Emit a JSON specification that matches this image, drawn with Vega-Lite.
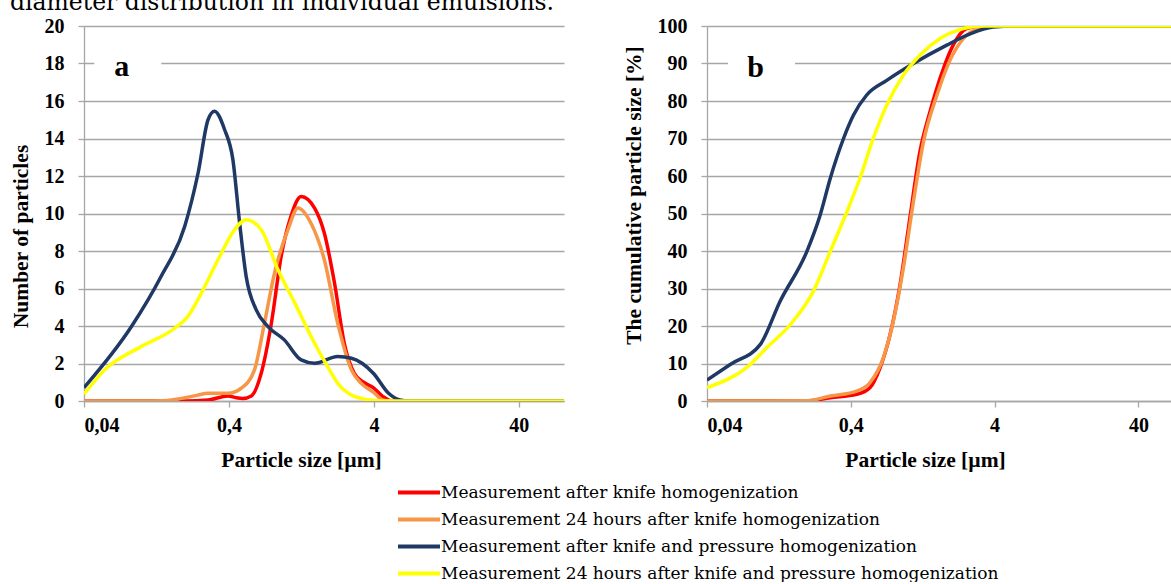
{
  "$schema": "https://vega.github.io/schema/vega-lite/v6.json",
  "padding": {"left": 10, "top": -10, "right": 0, "bottom": 0},
  "background": "white",
  "config": {
    "view": {"stroke": null},
    "font": "Liberation Serif",
    "axis": {
      "labelFont": "Liberation Serif",
      "labelFontWeight": "bold",
      "labelFontSize": 20,
      "labelColor": "black",
      "labelOverlap": false,
      "titleFont": "Liberation Serif",
      "titleFontWeight": "bold",
      "titleFontSize": 21.5,
      "titleColor": "black",
      "domainColor": "#a6a6a6",
      "domainWidth": 1.3,
      "tickColor": "#a6a6a6",
      "tickWidth": 1.3,
      "tickSize": 6,
      "gridColor": "#a6a6a6",
      "gridWidth": 1.3
    },
    "axisX": {"grid": false, "labelPadding": 8, "titlePadding": 14},
    "axisY": {"grid": true, "labelPadding": 14, "titlePadding": 12}
  },
  "datasets": {
    "dist": [
      {"series": "Measurement after knife homogenization", "size": 0.04, "value": 0},
      {"series": "Measurement after knife homogenization", "size": 0.08, "value": 0},
      {"series": "Measurement after knife homogenization", "size": 0.15, "value": 0},
      {"series": "Measurement after knife homogenization", "size": 0.2, "value": 0},
      {"series": "Measurement after knife homogenization", "size": 0.287, "value": 0.05},
      {"series": "Measurement after knife homogenization", "size": 0.394, "value": 0.27},
      {"series": "Measurement after knife homogenization", "size": 0.45, "value": 0.17},
      {"series": "Measurement after knife homogenization", "size": 0.5, "value": 0.14},
      {"series": "Measurement after knife homogenization", "size": 0.571, "value": 0.27},
      {"series": "Measurement after knife homogenization", "size": 0.668, "value": 1.48},
      {"series": "Measurement after knife homogenization", "size": 0.785, "value": 4.15},
      {"series": "Measurement after knife homogenization", "size": 0.917, "value": 7.71},
      {"series": "Measurement after knife homogenization", "size": 1.07, "value": 9.84},
      {"series": "Measurement after knife homogenization", "size": 1.26, "value": 10.91},
      {"series": "Measurement after knife homogenization", "size": 1.56, "value": 10.29},
      {"series": "Measurement after knife homogenization", "size": 1.82, "value": 8.96},
      {"series": "Measurement after knife homogenization", "size": 2.14, "value": 6.29},
      {"series": "Measurement after knife homogenization", "size": 2.5, "value": 3.08},
      {"series": "Measurement after knife homogenization", "size": 2.93, "value": 1.48},
      {"series": "Measurement after knife homogenization", "size": 3.4, "value": 1.0},
      {"series": "Measurement after knife homogenization", "size": 3.98, "value": 0.7},
      {"series": "Measurement after knife homogenization", "size": 4.6, "value": 0.25},
      {"series": "Measurement after knife homogenization", "size": 5.35, "value": 0},
      {"series": "Measurement after knife homogenization", "size": 10, "value": 0},
      {"series": "Measurement after knife homogenization", "size": 20, "value": 0},
      {"series": "Measurement after knife homogenization", "size": 40, "value": 0},
      {"series": "Measurement after knife homogenization", "size": 82, "value": 0},
      {"series": "Measurement 24 hours after knife homogenization", "size": 0.04, "value": 0},
      {"series": "Measurement 24 hours after knife homogenization", "size": 0.1, "value": 0},
      {"series": "Measurement 24 hours after knife homogenization", "size": 0.15, "value": 0.03},
      {"series": "Measurement 24 hours after knife homogenization", "size": 0.188, "value": 0.14},
      {"series": "Measurement 24 hours after knife homogenization", "size": 0.24, "value": 0.3},
      {"series": "Measurement 24 hours after knife homogenization", "size": 0.287, "value": 0.41},
      {"series": "Measurement 24 hours after knife homogenization", "size": 0.394, "value": 0.41},
      {"series": "Measurement 24 hours after knife homogenization", "size": 0.486, "value": 0.68},
      {"series": "Measurement 24 hours after knife homogenization", "size": 0.6, "value": 1.66},
      {"series": "Measurement 24 hours after knife homogenization", "size": 0.703, "value": 4.15},
      {"series": "Measurement 24 hours after knife homogenization", "size": 0.825, "value": 6.82},
      {"series": "Measurement 24 hours after knife homogenization", "size": 1.02, "value": 9.13},
      {"series": "Measurement 24 hours after knife homogenization", "size": 1.2, "value": 10.29},
      {"series": "Measurement 24 hours after knife homogenization", "size": 1.47, "value": 9.49},
      {"series": "Measurement 24 hours after knife homogenization", "size": 1.82, "value": 7.53},
      {"series": "Measurement 24 hours after knife homogenization", "size": 2.25, "value": 4.15},
      {"series": "Measurement 24 hours after knife homogenization", "size": 2.8, "value": 1.66},
      {"series": "Measurement 24 hours after knife homogenization", "size": 3.26, "value": 0.95},
      {"series": "Measurement 24 hours after knife homogenization", "size": 4.0, "value": 0.45},
      {"series": "Measurement 24 hours after knife homogenization", "size": 4.6, "value": 0.05},
      {"series": "Measurement 24 hours after knife homogenization", "size": 5.2, "value": 0},
      {"series": "Measurement 24 hours after knife homogenization", "size": 10, "value": 0},
      {"series": "Measurement 24 hours after knife homogenization", "size": 20, "value": 0},
      {"series": "Measurement 24 hours after knife homogenization", "size": 40, "value": 0},
      {"series": "Measurement 24 hours after knife homogenization", "size": 82, "value": 0},
      {"series": "Measurement after knife and pressure homogenization", "size": 0.04, "value": 0.71},
      {"series": "Measurement after knife and pressure homogenization", "size": 0.085, "value": 3.97},
      {"series": "Measurement after knife and pressure homogenization", "size": 0.136, "value": 6.64},
      {"series": "Measurement after knife and pressure homogenization", "size": 0.198, "value": 9.31},
      {"series": "Measurement after knife and pressure homogenization", "size": 0.245, "value": 12.16},
      {"series": "Measurement after knife and pressure homogenization", "size": 0.287, "value": 15.0},
      {"series": "Measurement after knife and pressure homogenization", "size": 0.318, "value": 15.45},
      {"series": "Measurement after knife and pressure homogenization", "size": 0.373, "value": 14.48},
      {"series": "Measurement after knife and pressure homogenization", "size": 0.426, "value": 12.87},
      {"series": "Measurement after knife and pressure homogenization", "size": 0.474, "value": 9.49},
      {"series": "Measurement after knife and pressure homogenization", "size": 0.526, "value": 6.64},
      {"series": "Measurement after knife and pressure homogenization", "size": 0.617, "value": 4.86},
      {"series": "Measurement after knife and pressure homogenization", "size": 0.744, "value": 3.97},
      {"series": "Measurement after knife and pressure homogenization", "size": 0.964, "value": 3.26},
      {"series": "Measurement after knife and pressure homogenization", "size": 1.26, "value": 2.19},
      {"series": "Measurement after knife and pressure homogenization", "size": 1.56, "value": 2.01},
      {"series": "Measurement after knife and pressure homogenization", "size": 2.25, "value": 2.37},
      {"series": "Measurement after knife and pressure homogenization", "size": 2.8, "value": 2.28},
      {"series": "Measurement after knife and pressure homogenization", "size": 3.98, "value": 1.47},
      {"series": "Measurement after knife and pressure homogenization", "size": 5.05, "value": 0.41},
      {"series": "Measurement after knife and pressure homogenization", "size": 6.04, "value": 0.05},
      {"series": "Measurement after knife and pressure homogenization", "size": 7, "value": 0},
      {"series": "Measurement after knife and pressure homogenization", "size": 10, "value": 0},
      {"series": "Measurement after knife and pressure homogenization", "size": 20, "value": 0},
      {"series": "Measurement after knife and pressure homogenization", "size": 40, "value": 0},
      {"series": "Measurement after knife and pressure homogenization", "size": 82, "value": 0},
      {"series": "Measurement 24 hours after knife and pressure homogenization", "size": 0.04, "value": 0.36},
      {"series": "Measurement 24 hours after knife and pressure homogenization", "size": 0.0555, "value": 1.66},
      {"series": "Measurement 24 hours after knife and pressure homogenization", "size": 0.099, "value": 2.9},
      {"series": "Measurement 24 hours after knife and pressure homogenization", "size": 0.169, "value": 3.88},
      {"series": "Measurement 24 hours after knife and pressure homogenization", "size": 0.208, "value": 4.5},
      {"series": "Measurement 24 hours after knife and pressure homogenization", "size": 0.258, "value": 5.75},
      {"series": "Measurement 24 hours after knife and pressure homogenization", "size": 0.336, "value": 7.53},
      {"series": "Measurement 24 hours after knife and pressure homogenization", "size": 0.437, "value": 9.13},
      {"series": "Measurement 24 hours after knife and pressure homogenization", "size": 0.526, "value": 9.67},
      {"series": "Measurement 24 hours after knife and pressure homogenization", "size": 0.668, "value": 9.13},
      {"series": "Measurement 24 hours after knife and pressure homogenization", "size": 0.872, "value": 7.0},
      {"series": "Measurement 24 hours after knife and pressure homogenization", "size": 1.14, "value": 5.22},
      {"series": "Measurement 24 hours after knife and pressure homogenization", "size": 1.56, "value": 3.08},
      {"series": "Measurement 24 hours after knife and pressure homogenization", "size": 1.92, "value": 1.83},
      {"series": "Measurement 24 hours after knife and pressure homogenization", "size": 2.25, "value": 0.95},
      {"series": "Measurement 24 hours after knife and pressure homogenization", "size": 2.8, "value": 0.32},
      {"series": "Measurement 24 hours after knife and pressure homogenization", "size": 3.26, "value": 0.14},
      {"series": "Measurement 24 hours after knife and pressure homogenization", "size": 4.2, "value": 0.02},
      {"series": "Measurement 24 hours after knife and pressure homogenization", "size": 5, "value": 0},
      {"series": "Measurement 24 hours after knife and pressure homogenization", "size": 10, "value": 0},
      {"series": "Measurement 24 hours after knife and pressure homogenization", "size": 20, "value": 0},
      {"series": "Measurement 24 hours after knife and pressure homogenization", "size": 40, "value": 0},
      {"series": "Measurement 24 hours after knife and pressure homogenization", "size": 82, "value": 0}
    ],
    "cum": [
      {"series": "Measurement after knife homogenization", "size": 0.04, "value": 0},
      {"series": "Measurement after knife homogenization", "size": 0.1, "value": 0},
      {"series": "Measurement after knife homogenization", "size": 0.198, "value": 0},
      {"series": "Measurement after knife homogenization", "size": 0.288, "value": 0.88},
      {"series": "Measurement after knife homogenization", "size": 0.44, "value": 1.78},
      {"series": "Measurement after knife homogenization", "size": 0.543, "value": 3.55},
      {"series": "Measurement after knife homogenization", "size": 0.639, "value": 8.86},
      {"series": "Measurement after knife homogenization", "size": 0.75, "value": 17.7},
      {"series": "Measurement after knife homogenization", "size": 0.88, "value": 31.0},
      {"series": "Measurement after knife homogenization", "size": 1.03, "value": 48.8},
      {"series": "Measurement after knife homogenization", "size": 1.21, "value": 66.5},
      {"series": "Measurement after knife homogenization", "size": 1.42, "value": 77.1},
      {"series": "Measurement after knife homogenization", "size": 1.76, "value": 88.6},
      {"series": "Measurement after knife homogenization", "size": 2.06, "value": 94.9},
      {"series": "Measurement after knife homogenization", "size": 2.55, "value": 99.3},
      {"series": "Measurement after knife homogenization", "size": 3.2, "value": 100},
      {"series": "Measurement after knife homogenization", "size": 5, "value": 100},
      {"series": "Measurement after knife homogenization", "size": 10, "value": 100},
      {"series": "Measurement after knife homogenization", "size": 20, "value": 100},
      {"series": "Measurement after knife homogenization", "size": 40, "value": 100},
      {"series": "Measurement after knife homogenization", "size": 80, "value": 100},
      {"series": "Measurement 24 hours after knife homogenization", "size": 0.04, "value": 0},
      {"series": "Measurement 24 hours after knife homogenization", "size": 0.1, "value": 0},
      {"series": "Measurement 24 hours after knife homogenization", "size": 0.2, "value": 0.1},
      {"series": "Measurement 24 hours after knife homogenization", "size": 0.288, "value": 1.33},
      {"series": "Measurement 24 hours after knife homogenization", "size": 0.44, "value": 2.66},
      {"series": "Measurement 24 hours after knife homogenization", "size": 0.543, "value": 4.87},
      {"series": "Measurement 24 hours after knife homogenization", "size": 0.673, "value": 11.5},
      {"series": "Measurement 24 hours after knife homogenization", "size": 0.79, "value": 21.3},
      {"series": "Measurement 24 hours after knife homogenization", "size": 0.928, "value": 35.5},
      {"series": "Measurement 24 hours after knife homogenization", "size": 1.09, "value": 53.2},
      {"series": "Measurement 24 hours after knife homogenization", "size": 1.28, "value": 69.1},
      {"series": "Measurement 24 hours after knife homogenization", "size": 1.59, "value": 81.6},
      {"series": "Measurement 24 hours after knife homogenization", "size": 1.96, "value": 90.9},
      {"series": "Measurement 24 hours after knife homogenization", "size": 2.42, "value": 96.6},
      {"series": "Measurement 24 hours after knife homogenization", "size": 3.16, "value": 99.5},
      {"series": "Measurement 24 hours after knife homogenization", "size": 3.8, "value": 100},
      {"series": "Measurement 24 hours after knife homogenization", "size": 5, "value": 100},
      {"series": "Measurement 24 hours after knife homogenization", "size": 10, "value": 100},
      {"series": "Measurement 24 hours after knife homogenization", "size": 20, "value": 100},
      {"series": "Measurement 24 hours after knife homogenization", "size": 40, "value": 100},
      {"series": "Measurement 24 hours after knife homogenization", "size": 80, "value": 100},
      {"series": "Measurement after knife and pressure homogenization", "size": 0.04, "value": 5.59},
      {"series": "Measurement after knife and pressure homogenization", "size": 0.058, "value": 9.75},
      {"series": "Measurement after knife and pressure homogenization", "size": 0.094, "value": 15.1},
      {"series": "Measurement after knife and pressure homogenization", "size": 0.129, "value": 26.6},
      {"series": "Measurement after knife and pressure homogenization", "size": 0.198, "value": 39.9},
      {"series": "Measurement after knife and pressure homogenization", "size": 0.245, "value": 49.6},
      {"series": "Measurement after knife and pressure homogenization", "size": 0.288, "value": 59.4},
      {"series": "Measurement after knife and pressure homogenization", "size": 0.356, "value": 70.0},
      {"series": "Measurement after knife and pressure homogenization", "size": 0.417, "value": 76.2},
      {"series": "Measurement after knife and pressure homogenization", "size": 0.516, "value": 81.6},
      {"series": "Measurement after knife and pressure homogenization", "size": 0.711, "value": 85.5},
      {"series": "Measurement after knife and pressure homogenization", "size": 1.09, "value": 90.0},
      {"series": "Measurement after knife and pressure homogenization", "size": 1.86, "value": 94.9},
      {"series": "Measurement after knife and pressure homogenization", "size": 2.7, "value": 97.9},
      {"series": "Measurement after knife and pressure homogenization", "size": 3.92, "value": 99.7},
      {"series": "Measurement after knife and pressure homogenization", "size": 5.5, "value": 100},
      {"series": "Measurement after knife and pressure homogenization", "size": 10, "value": 100},
      {"series": "Measurement after knife and pressure homogenization", "size": 20, "value": 100},
      {"series": "Measurement after knife and pressure homogenization", "size": 40, "value": 100},
      {"series": "Measurement after knife and pressure homogenization", "size": 80, "value": 100},
      {"series": "Measurement 24 hours after knife and pressure homogenization", "size": 0.04, "value": 3.55},
      {"series": "Measurement 24 hours after knife and pressure homogenization", "size": 0.08, "value": 9.75},
      {"series": "Measurement 24 hours after knife and pressure homogenization", "size": 0.104, "value": 14.2},
      {"series": "Measurement 24 hours after knife and pressure homogenization", "size": 0.152, "value": 20.4},
      {"series": "Measurement 24 hours after knife and pressure homogenization", "size": 0.22, "value": 29.3},
      {"series": "Measurement 24 hours after knife and pressure homogenization", "size": 0.288, "value": 39.9},
      {"series": "Measurement 24 hours after knife and pressure homogenization", "size": 0.376, "value": 50.5},
      {"series": "Measurement 24 hours after knife and pressure homogenization", "size": 0.463, "value": 59.4},
      {"series": "Measurement 24 hours after knife and pressure homogenization", "size": 0.573, "value": 70.0},
      {"series": "Measurement 24 hours after knife and pressure homogenization", "size": 0.711, "value": 78.9},
      {"series": "Measurement 24 hours after knife and pressure homogenization", "size": 0.928, "value": 86.9},
      {"series": "Measurement 24 hours after knife and pressure homogenization", "size": 1.21, "value": 92.2},
      {"series": "Measurement 24 hours after knife and pressure homogenization", "size": 1.66, "value": 96.6},
      {"series": "Measurement 24 hours after knife and pressure homogenization", "size": 2.42, "value": 99.3},
      {"series": "Measurement 24 hours after knife and pressure homogenization", "size": 3.2, "value": 100},
      {"series": "Measurement 24 hours after knife and pressure homogenization", "size": 5, "value": 100},
      {"series": "Measurement 24 hours after knife and pressure homogenization", "size": 10, "value": 100},
      {"series": "Measurement 24 hours after knife and pressure homogenization", "size": 20, "value": 100},
      {"series": "Measurement 24 hours after knife and pressure homogenization", "size": 40, "value": 100},
      {"series": "Measurement 24 hours after knife and pressure homogenization", "size": 80, "value": 100}
    ],
    "tags": [
      {"panel": "a", "tag": "a", "size": 0.0802, "value": 18},
      {"panel": "b", "tag": "b", "size": 0.0958, "value": 89.5}
    ]
  },
  "spacing": 1,
  "columns": 1,
  "align": "none",
  "concat": [
    {
      "width": 600,
      "height": 14,
      "data": {"values": [{"caption": "diameter distribution in individual emulsions."}]},
      "mark": {"type": "text", "align": "left", "baseline": "alphabetic", "font": "DejaVu Serif", "fontSize": 23.5, "color": "black", "dx": -74},
      "encoding": {
        "text": {"field": "caption"},
        "x": {"datum": 0, "type": "quantitative", "scale": {"domain": [0, 1]}, "axis": null},
        "y": {"datum": 0.22, "type": "quantitative", "scale": {"domain": [0, 1]}, "axis": null}
      }
    },
    {
      "spacing": 59,
      "hconcat": [
        {
          "width": 480,
          "height": 375,
          "layer": [
            {
              "data": {"name": "dist"},
              "mark": {"type": "line", "interpolate": "monotone", "strokeWidth": 3.5, "clip": true},
              "encoding": {
                "x": {"field": "size", "type": "quantitative", "scale": {"type": "log", "domain": [0.04, 82], "nice": false},
                      "axis": {"values": [0.04, 0.4, 4, 40], "labelExpr": "replace(format(datum.value, '~g'), '.', ',')", "title": "Particle size [µm]", "titleX": 217}},
                "y": {"field": "value", "type": "quantitative", "scale": {"domain": [0, 20], "nice": false},
                      "axis": {"values": [0, 2, 4, 6, 8, 10, 12, 14, 16, 18, 20], "tickCount": 12, "labelOverlap": false, "title": "Number of particles", "titleY": 210}},
                "color": {"field": "series", "type": "nominal",
                  "scale": {"domain": ["Measurement after knife homogenization", "Measurement 24 hours after knife homogenization", "Measurement after knife and pressure homogenization", "Measurement 24 hours after knife and pressure homogenization"],
                            "range": ["#ff0000", "#f79646", "#1f3864", "#ffff00"]},
                  "legend": {"orient": "none", "legendX": 322.5, "legendY": 481, "title": null, "symbolType": "M-2,0H2", "symbolStrokeWidth": 4, "symbolSize": 441, "labelFont": "DejaVu Serif", "labelFontSize": 17, "labelColor": "black", "labelLimit": 900, "labelOffset": 9.5, "rowPadding": 6}}
              }
            },
            {
              "data": {"name": "tags"},
              "transform": [{"filter": "datum.panel == 'a'"}],
              "mark": {"type": "rect", "width": 67, "height": 22, "fill": "white"},
              "encoding": {"x": {"field": "size", "type": "quantitative"}, "y": {"field": "value", "type": "quantitative"}}
            },
            {
              "data": {"name": "tags"},
              "transform": [{"filter": "datum.panel == 'a'"}],
              "mark": {"type": "text", "font": "Liberation Serif", "fontWeight": "bold", "fontSize": 30, "dx": -6, "dy": 3, "color": "black"},
              "encoding": {"x": {"field": "size", "type": "quantitative"}, "y": {"field": "value", "type": "quantitative"}, "text": {"field": "tag"}}
            }
          ]
        },
        {
          "width": 464,
          "height": 375,
          "layer": [
            {
              "data": {"name": "cum"},
              "mark": {"type": "line", "interpolate": "monotone", "strokeWidth": 3.5, "clip": true},
              "encoding": {
                "x": {"field": "size", "type": "quantitative", "scale": {"type": "log", "domain": [0.04, 67.4], "nice": false},
                      "axis": {"values": [0.04, 0.4, 4, 40], "labelExpr": "replace(format(datum.value, '~g'), '.', ',')", "title": "Particle size [µm]", "titleX": 218}},
                "y": {"field": "value", "type": "quantitative", "scale": {"domain": [0, 100], "nice": false},
                      "axis": {"values": [0, 10, 20, 30, 40, 50, 60, 70, 80, 90, 100], "tickCount": 12, "labelOverlap": false, "title": "The cumulative particle size [%]", "titleY": 169}},
                "color": {"field": "series", "type": "nominal"}
              }
            },
            {
              "data": {"name": "tags"},
              "transform": [{"filter": "datum.panel == 'b'"}],
              "mark": {"type": "rect", "width": 67, "height": 22, "fill": "white"},
              "encoding": {"x": {"field": "size", "type": "quantitative"}, "y": {"field": "value", "type": "quantitative"}}
            },
            {
              "data": {"name": "tags"},
              "transform": [{"filter": "datum.panel == 'b'"}],
              "mark": {"type": "text", "font": "Liberation Serif", "fontWeight": "bold", "fontSize": 30, "dx": -6, "dy": 3, "color": "black"},
              "encoding": {"x": {"field": "size", "type": "quantitative"}, "y": {"field": "value", "type": "quantitative"}, "text": {"field": "tag"}}
            }
          ]
        }
      ]
    }
  ]
}
